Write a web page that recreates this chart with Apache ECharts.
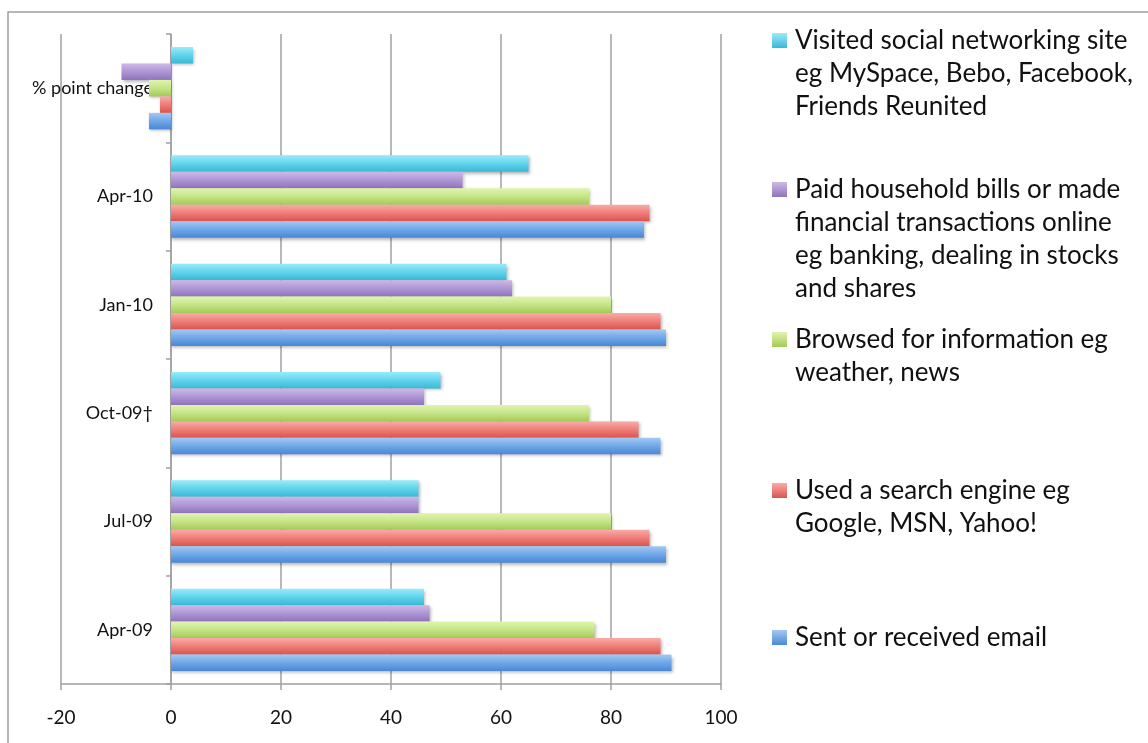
<!DOCTYPE html>
<html>
<head>
<meta charset="utf-8">
<script src="https://cdn.jsdelivr.net/npm/echarts@6/dist/echarts.min.js"></script>
<style>
html,body{margin:0;padding:0;background:#fff;}
#chart{width:1148px;height:743px;}
</style>
</head>
<body>
<div id="chart"></div>
<script>
// ---- data ----
const categories = ['Apr-09', 'Jul-09', 'Oct-09\u2020', 'Jan-10', 'Apr-10', '% point change'];
const seriesNames = [
  'Sent or received email',
  'Used a search engine eg Google, MSN, Yahoo!',
  'Browsed for information eg weather, news',
  'Paid household bills or made financial transactions online eg banking, dealing in stocks and shares',
  'Visited social networking site eg MySpace, Bebo, Facebook, Friends Reunited'
];
const emailValues   = [91, 90, 89, 90, 86, -4];
const searchValues  = [89, 87, 85, 89, 87, -2];
const browseValues  = [77, 80, 76, 80, 76, -4];
const billsValues   = [47, 45, 46, 62, 53, -9];
const socialValues  = [46, 45, 49, 61, 65, 4];
const xTicks = [-20, 0, 20, 40, 60, 80, 100];
const legendLines = [
  ['Sent or received email'],
  ['Used a search engine eg', 'Google, MSN, Yahoo!'],
  ['Browsed for information eg', 'weather, news'],
  ['Paid household bills or made', 'financial transactions online', 'eg banking, dealing in stocks', 'and shares'],
  ['Visited social networking site', 'eg MySpace, Bebo, Facebook,', 'Friends Reunited']
];

// ---- styles ----
const palette = [
  {top: '#a3c8f4', mid: '#6fa7e8', bot: '#4a88d4'},
  {top: '#f9aca8', mid: '#ef7d78', bot: '#d9544e'},
  {top: '#e0f5ad', mid: '#c5e487', bot: '#a4ca58'},
  {top: '#cdb9e6', mid: '#ae96d4', bot: '#9073bd'},
  {top: '#98ecf8', mid: '#62d3ec', bot: '#3ab8d6'}
];
const allValues = [emailValues, searchValues, browseValues, billsValues, socialValues];
const FONT = 'Lato, "Open Sans", sans-serif';

// horizontal bars: first series is drawn on top, so add them in reverse (email ends up at the bottom)
const series = [];
for (let i = allValues.length - 1; i >= 0; i--) {
  series.push({
    name: seriesNames[i],
    type: 'bar',
    data: allValues[i],
    barGap: '0%',
    barCategoryGap: '24%',
    itemStyle: {
      color: new echarts.graphic.LinearGradient(0, 0, 0, 1, [
        {offset: 0, color: palette[i].top},
        {offset: 0.5, color: palette[i].mid},
        {offset: 1, color: palette[i].bot}
      ]),
      shadowColor: 'rgba(0,0,0,0.28)',
      shadowBlur: 3,
      shadowOffsetX: 1,
      shadowOffsetY: 2
    },
    emphasis: {disabled: true},
    z: 3
  });
}

const legendTops = [621, 474, 323, 173, 24];
const rich = {
  g: {width: 8},
  pad: {width: 23},
  t: {fontSize: 26, lineHeight: 33, fontFamily: FONT, color: '#111'}
};
palette.forEach((p, i) => {
  rich['sq' + i] = {width: 15, height: 15, backgroundColor: new echarts.graphic.LinearGradient(0, 0, 0, 1, [
    {offset: 0, color: p.top}, {offset: 1, color: p.bot}])};
});
const legends = seriesNames.map((n, i) => ({
  data: [n],
  orient: 'vertical',
  left: 767,
  top: legendTops[i],
  padding: 0,
  itemWidth: 0,
  itemHeight: 0,
  selectedMode: false,
  textStyle: {fontSize: 26, lineHeight: 33, fontFamily: FONT, color: '#111', rich: rich},
  formatter: function () {
    return legendLines[i].map((line, k) =>
      (k === 0 ? '{sq' + i + '|}{g|}' : '{pad|}') + '{t|' + line + '}').join('\n');
  }
}));

const GRID_LEFT = 61, GRID_RIGHT = 427, CHART_W = 1148;
// place the category axis on the value 0 (pixel offset from the grid's left edge)
const zeroOffset = -(CHART_W - GRID_LEFT - GRID_RIGHT) * (0 - xTicks[0]) / (xTicks[xTicks.length - 1] - xTicks[0]);

const chart = echarts.init(document.getElementById('chart'), null, {renderer: 'canvas'});
chart.setOption({
  animation: false,
  backgroundColor: '#fff',
  graphic: [{
    type: 'rect',
    shape: {x: 8, y: 12, width: 2000, height: 2000},
    style: {fill: 'none', stroke: '#a0a0a0', lineWidth: 1.5},
    silent: true,
    z: 0
  }],
  grid: {left: GRID_LEFT, right: GRID_RIGHT, top: 34, bottom: 59, containLabel: false, outerBoundsMode: 'none'},
  legend: legends,
  xAxis: {
    type: 'value',
    min: xTicks[0],
    max: xTicks[xTicks.length - 1],
    interval: 20,
    axisLine: {show: true, lineStyle: {color: '#a0a0a0', width: 1.5}},
    axisTick: {show: true, length: 6, lineStyle: {color: '#a0a0a0', width: 1.5}},
    splitLine: {show: true, lineStyle: {color: '#a0a0a0', width: 1.5}},
    axisLabel: {fontSize: 19, color: '#111', fontFamily: FONT, margin: 24}
  },
  yAxis: {
    type: 'category',
    data: categories,
    position: 'left',
    offset: zeroOffset,
    axisLine: {show: true, onZero: false, lineStyle: {color: '#a0a0a0', width: 1.5}},
    axisTick: {show: true, length: 5, lineStyle: {color: '#a0a0a0', width: 1.5}},
    splitLine: {show: false},
    axisLabel: {fontSize: 18, color: '#111', fontFamily: FONT, margin: 18}
  },
  series: series
});
</script>
</body>
</html>
